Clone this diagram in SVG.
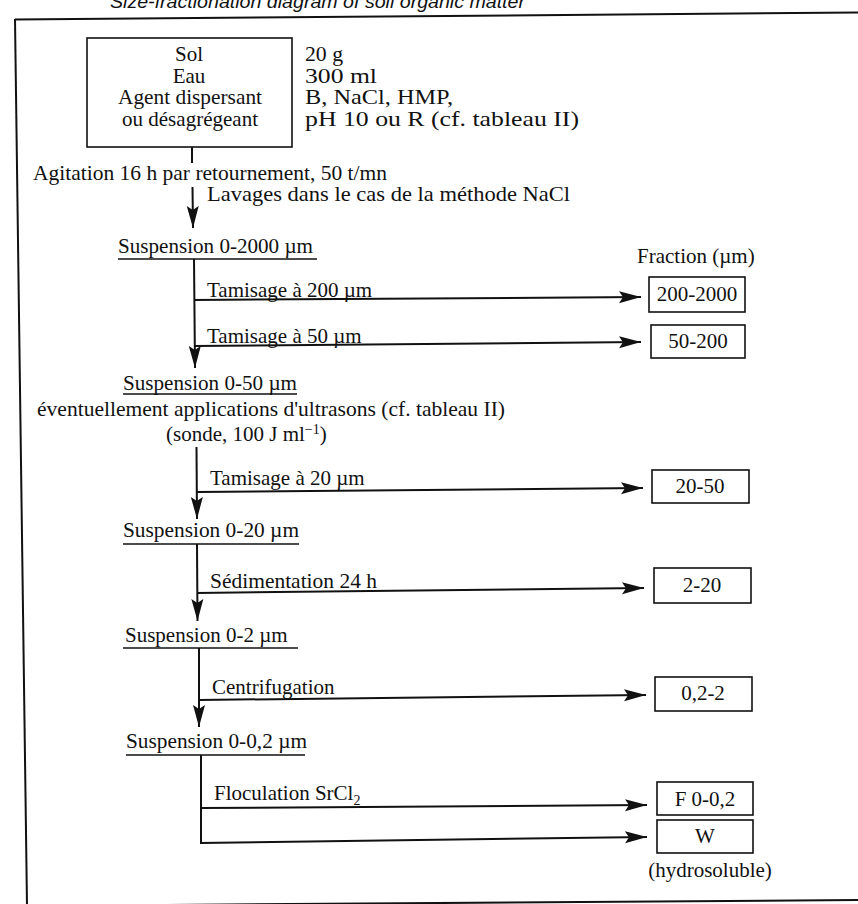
<svg xmlns="http://www.w3.org/2000/svg" width="858" height="904" viewBox="0 0 858 904">
<style>
  text { font-family: "Liberation Serif", "Times New Roman", serif; font-size: 21px; fill: #111; }
  .title { font-family: "Liberation Sans", Arial, sans-serif; font-style: italic; font-size: 19px; }
  .c { text-anchor: middle; }
  .frame { fill: none; stroke: #111; stroke-width: 2; }
  .box { fill: none; stroke: #111; stroke-width: 1.6; }
  .ul { stroke: #111; stroke-width: 1.4; }
  .conn line, .conn polyline { fill: none; stroke: #111; stroke-width: 2; }
  .arr { marker-end: url(#ah); }
  .sm { font-size: 14px; }
</style>
<defs>
  <marker id="ah" markerUnits="userSpaceOnUse" markerWidth="24" markerHeight="14" refX="22" refY="6" orient="auto" viewBox="0 0 24 12">
    <path d="M0,0 L22,6 L0,12 L4,6 Z" fill="#111"/>
  </marker>
</defs>
<rect width="858" height="904" fill="#fff"/>

<text class="title" x="110" y="7.5" textLength="415" lengthAdjust="spacingAndGlyphs">Size-fractionation diagram of soil organic matter</text>

<g id="frame">
  <line class="frame" x1="15" y1="19.5" x2="858" y2="12.5"/>
  <line class="frame" x1="15" y1="19" x2="27" y2="906"/>
  <line class="frame" x1="27" y1="906" x2="858" y2="900"/>
</g>

<g id="sample">
  <rect class="box" x="87" y="38" width="205" height="109"/>
  <text class="c" x="189" y="61">Sol</text>
  <text class="c" x="189" y="82.5">Eau</text>
  <text class="c" x="190" y="104" textLength="144" lengthAdjust="spacingAndGlyphs">Agent dispersant</text>
  <text class="c" x="190" y="125.5" textLength="136" lengthAdjust="spacingAndGlyphs">ou désagrégeant</text>
</g>
<g id="params">
  <text x="305" y="61" textLength="38" lengthAdjust="spacingAndGlyphs">20 g</text>
  <text x="305" y="82.5" textLength="72" lengthAdjust="spacingAndGlyphs">300 ml</text>
  <text x="305" y="104" textLength="148" lengthAdjust="spacingAndGlyphs">B, NaCl, HMP,</text>
  <text x="305" y="125.5" textLength="274" lengthAdjust="spacingAndGlyphs">pH 10 ou R (cf. tableau II)</text>
</g>

<g id="agitation"><text x="33" y="180" textLength="354" lengthAdjust="spacingAndGlyphs">Agitation 16 h par retournement, 50 t/mn</text></g>
<g id="lavages"><text x="207" y="201" textLength="363" lengthAdjust="spacingAndGlyphs">Lavages dans le cas de la méthode NaCl</text></g>

<g id="susp-2000">
  <text x="118" y="253" textLength="195" lengthAdjust="spacingAndGlyphs">Suspension 0-2000 µm</text>
  <line class="ul" x1="118" y1="259" x2="317" y2="259"/>
</g>
<g id="susp-50">
  <text x="123" y="390" textLength="174" lengthAdjust="spacingAndGlyphs">Suspension 0-50 µm</text>
  <line class="ul" x1="123" y1="394" x2="297" y2="394"/>
  <text x="37" y="416" textLength="468" lengthAdjust="spacingAndGlyphs">éventuellement applications d'ultrasons (cf. tableau II)</text>
  <text x="166" y="441">(sonde, 100 J ml<tspan class="sm" dy="-7">−1</tspan><tspan dy="7">)</tspan></text>
</g>
<g id="susp-20">
  <text x="123" y="537" textLength="176" lengthAdjust="spacingAndGlyphs">Suspension 0-20 µm</text>
  <line class="ul" x1="123" y1="544" x2="299" y2="544"/>
</g>
<g id="susp-2">
  <text x="125" y="642">Suspension 0-2 µm</text>
  <line class="ul" x1="123" y1="648" x2="298" y2="648"/>
</g>
<g id="susp-02">
  <text x="126" y="748" textLength="181" lengthAdjust="spacingAndGlyphs">Suspension 0-0,2 µm</text>
  <line class="ul" x1="126" y1="755" x2="305" y2="755"/>
</g>

<g id="step-labels">
  <text x="207" y="297">Tamisage à 200 µm</text>
  <text x="207" y="343">Tamisage à 50 µm</text>
  <text x="210" y="485">Tamisage à 20 µm</text>
  <text x="210" y="588" textLength="167" lengthAdjust="spacingAndGlyphs">Sédimentation 24 h</text>
  <text x="212" y="694">Centrifugation</text>
  <text x="214" y="800">Floculation SrCl<tspan class="sm" dy="5">2</tspan></text>
</g>

<g id="fraction-header"><text x="637" y="263">Fraction (µm)</text></g>
<g id="f-200-2000"><rect class="box" x="649" y="277" width="96" height="35"/><text class="c" x="697" y="301">200-2000</text></g>
<g id="f-50-200"><rect class="box" x="651" y="325" width="94" height="33"/><text class="c" x="698" y="348">50-200</text></g>
<g id="f-20-50"><rect class="box" x="652" y="470" width="97" height="33"/><text class="c" x="700" y="493">20-50</text></g>
<g id="f-2-20"><rect class="box" x="654" y="568" width="97" height="35"/><text class="c" x="702" y="592">2-20</text></g>
<g id="f-02-2"><rect class="box" x="655" y="677" width="97" height="34"/><text class="c" x="703" y="700">0,2-2</text></g>
<g id="f-F"><rect class="box" x="657" y="782" width="96" height="33"/><text class="c" x="705" y="806">F 0-0,2</text></g>
<g id="f-W"><rect class="box" x="657" y="820" width="96" height="33"/><text class="c" x="705" y="843">W</text>
  <text class="c" x="710" y="877">(hydrosoluble)</text></g>

<g id="connectors" class="conn">
  <line x1="192" y1="147" x2="192" y2="163"/>
  <line class="arr" x1="192.5" y1="187" x2="193" y2="228"/>
  <line class="arr" x1="194" y1="259" x2="195" y2="368"/>
  <line class="arr" x1="196.5" y1="447" x2="197" y2="519"/>
  <line class="arr" x1="197" y1="544" x2="197.5" y2="621"/>
  <line class="arr" x1="199" y1="648" x2="199" y2="727"/>
  <polyline points="201,755 201,843"/>
  <line class="arr" x1="194" y1="300" x2="641" y2="297"/>
  <line class="arr" x1="194.5" y1="346" x2="641" y2="342"/>
  <line class="arr" x1="197" y1="492" x2="643" y2="488"/>
  <line class="arr" x1="197" y1="593" x2="644" y2="588"/>
  <line class="arr" x1="199" y1="700" x2="646" y2="695"/>
  <line class="arr" x1="201" y1="808" x2="647" y2="805"/>
  <line class="arr" x1="200" y1="843" x2="647" y2="837"/>
</g>
</svg>
